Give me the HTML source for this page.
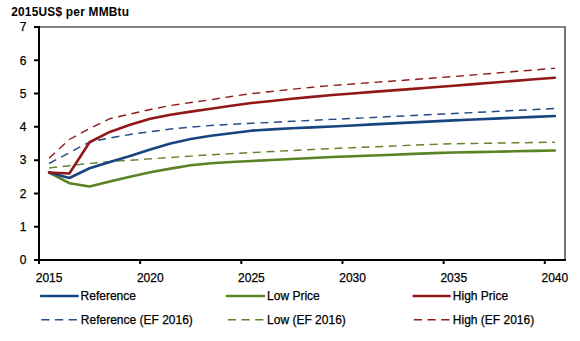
<!DOCTYPE html>
<html><head><meta charset="utf-8"><style>
html,body{margin:0;padding:0;background:#fff;}
body{width:580px;height:341px;overflow:hidden;}
svg{display:block;}
.t{font-family:"Liberation Sans",sans-serif;font-size:12px;fill:#000;stroke:#000;stroke-width:0.25px;}
.title{font-family:"Liberation Sans",sans-serif;font-size:11.9px;font-weight:bold;fill:#000;letter-spacing:0.22px;}
</style></head><body>
<svg width="580" height="341" viewBox="0 0 580 341">
<path d="M39 27 H565 V260" fill="none" stroke="#5e5e5e" stroke-width="1.7"/>
<polyline points="49.12,168.00 69.35,165.68 89.58,163.36 109.81,161.60 130.04,160.23 150.27,158.86 170.50,157.48 190.73,156.11 210.96,154.74 231.19,153.63 251.42,152.60 271.65,151.57 291.88,150.54 312.12,149.51 332.35,148.49 352.58,147.67 372.81,146.85 393.04,146.03 413.27,145.21 433.50,144.39 453.73,143.72 473.96,143.42 494.19,143.12 514.42,142.82 534.65,142.52 554.88,142.22" fill="none" stroke="#62822C" stroke-width="1.45" stroke-dasharray="8.0 5.62" stroke-dashoffset="0"/>
<polyline points="49.12,163.49 69.35,152.73 89.58,141.98 109.81,137.96 130.04,134.45 150.27,131.70 170.50,129.00 190.73,127.22 210.96,125.44 231.19,124.27 251.42,123.29 271.65,122.31 291.88,121.34 312.12,120.36 332.35,119.38 352.58,118.41 372.81,117.43 393.04,116.45 413.27,115.48 433.50,114.50 453.73,113.52 473.96,112.53 494.19,111.53 514.42,110.54 534.65,109.55 554.88,108.55" fill="none" stroke="#224C84" stroke-width="1.45" stroke-dasharray="8.0 5.62" stroke-dashoffset="0"/>
<polyline points="49.12,158.29 69.35,139.47 89.58,128.46 109.81,118.70 130.04,114.09 150.27,109.50 170.50,105.50 190.73,102.50 210.96,99.78 231.19,96.42 251.42,93.66 271.65,91.46 291.88,89.25 312.12,87.32 332.35,85.47 352.58,83.99 372.81,82.51 393.04,81.03 413.27,79.54 433.50,78.06 453.73,76.53 473.96,74.88 494.19,73.24 514.42,71.59 534.65,69.94 554.88,68.29" fill="none" stroke="#8E1C1C" stroke-width="1.45" stroke-dasharray="8.0 5.62" stroke-dashoffset="0"/>
<polyline points="49.12,172.51 69.35,183.21 89.58,186.58 109.81,181.50 130.04,176.69 150.27,172.30 170.50,168.60 190.73,165.30 210.96,163.30 231.19,162.04 251.42,161.03 271.65,160.02 291.88,159.01 312.12,157.99 332.35,156.99 352.58,156.22 372.81,155.45 393.04,154.68 413.27,153.92 433.50,153.15 453.73,152.49 473.96,152.10 494.19,151.70 514.42,151.31 534.65,150.92 554.88,150.52" fill="none" stroke="#5A8424" stroke-width="2.6" stroke-linejoin="round" stroke-linecap="round"/>
<polyline points="49.12,172.50 69.35,177.98 89.58,168.28 109.81,162.00 130.04,155.89 150.27,149.39 170.50,143.50 190.73,139.00 210.96,135.79 231.19,133.20 251.42,130.67 271.65,129.42 291.88,128.21 312.12,127.35 332.35,126.48 352.58,125.45 372.81,124.42 393.04,123.40 413.27,122.37 433.50,121.34 453.73,120.35 473.96,119.47 494.19,118.59 514.42,117.71 534.65,116.83 554.88,115.95" fill="none" stroke="#17457F" stroke-width="2.6" stroke-linejoin="round" stroke-linecap="round"/>
<polyline points="49.12,172.50 69.35,173.43 89.58,142.26 109.81,131.90 130.04,124.79 150.27,118.70 170.50,114.70 190.73,111.60 210.96,108.69 231.19,105.82 251.42,103.07 271.65,100.92 291.88,98.77 312.12,96.87 332.35,94.97 352.58,93.44 372.81,91.90 393.04,90.37 413.27,88.83 433.50,87.30 453.73,85.74 473.96,84.13 494.19,82.52 514.42,80.91 534.65,79.30 554.88,77.69" fill="none" stroke="#921818" stroke-width="2.6" stroke-linejoin="round" stroke-linecap="round"/>
<path d="M39 26 V261 M38 260 H566" fill="none" stroke="#000" stroke-width="2"/>
<path d="M34 260.00 H39 M34 226.71 H39 M34 193.43 H39 M34 160.14 H39 M34 126.86 H39 M34 93.57 H39 M34 60.29 H39 M34 27.00 H39 M39.00 260 V264 M140.15 260 V264 M241.31 260 V264 M342.46 260 V264 M443.62 260 V264 M544.77 260 V264 " stroke="#000" stroke-width="2" fill="none"/>
<text x="26.5" y="264.30" text-anchor="end" class="t">0</text>
<text x="26.5" y="231.01" text-anchor="end" class="t">1</text>
<text x="26.5" y="197.73" text-anchor="end" class="t">2</text>
<text x="26.5" y="164.44" text-anchor="end" class="t">3</text>
<text x="26.5" y="131.16" text-anchor="end" class="t">4</text>
<text x="26.5" y="97.87" text-anchor="end" class="t">5</text>
<text x="26.5" y="64.59" text-anchor="end" class="t">6</text>
<text x="26.5" y="31.30" text-anchor="end" class="t">7</text>
<text x="49.12" y="281.5" text-anchor="middle" class="t">2015</text>
<text x="150.27" y="281.5" text-anchor="middle" class="t">2020</text>
<text x="251.42" y="281.5" text-anchor="middle" class="t">2025</text>
<text x="352.58" y="281.5" text-anchor="middle" class="t">2030</text>
<text x="453.73" y="281.5" text-anchor="middle" class="t">2035</text>
<text x="554.88" y="281.5" text-anchor="middle" class="t">2040</text>
<text x="11.2" y="15.6" class="title">2015US$ per MMBtu</text>
<path d="M41 296 H77.6" stroke="#17457F" stroke-width="2.6" stroke-linecap="round"/>
<text x="80.6" y="300.2" class="t">Reference</text>
<path d="M227 296 H264" stroke="#5A8424" stroke-width="2.6" stroke-linecap="round"/>
<text x="267.1" y="300.2" class="t">Low Price</text>
<path d="M413.6 296 H449.6" stroke="#921818" stroke-width="2.6" stroke-linecap="round"/>
<text x="452.8" y="300.2" class="t">High Price</text>
<path d="M41.3 319.8 H77.6" stroke="#224C84" stroke-width="1.45" stroke-dasharray="8.2 5.5"/>
<text x="80.8" y="324.0" class="t">Reference (EF 2016)</text>
<path d="M227.8 319.8 H264" stroke="#62822C" stroke-width="1.45" stroke-dasharray="8.2 5.5"/>
<text x="267.1" y="324.0" class="t">Low (EF 2016)</text>
<path d="M413.8 319.8 H449.6" stroke="#8E1C1C" stroke-width="1.45" stroke-dasharray="8.2 5.5"/>
<text x="452.8" y="324.0" class="t">High (EF 2016)</text>
</svg>
</body></html>
